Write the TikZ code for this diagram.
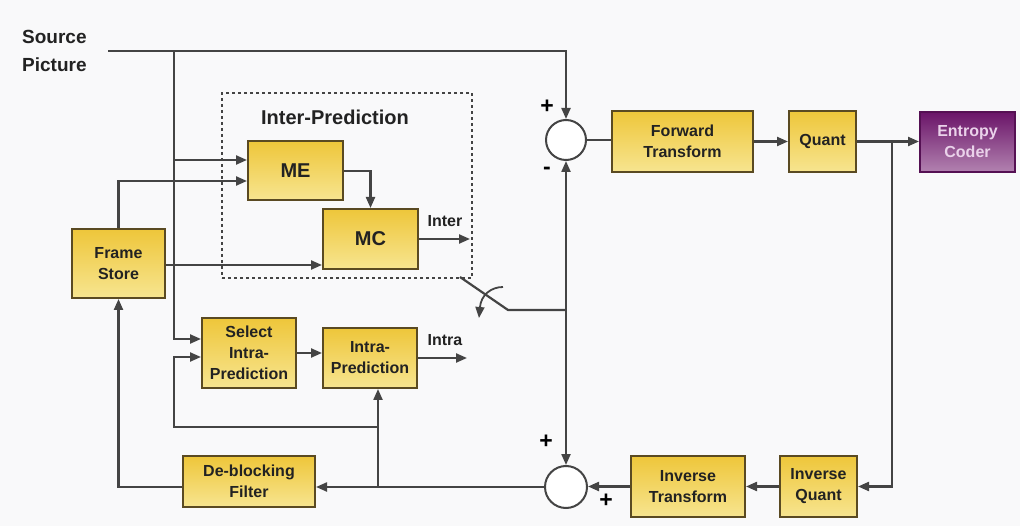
\documentclass[tikz,border=0pt]{standalone}
\usepackage{fontspec}
\setmainfont{Liberation Sans}
\usetikzlibrary{arrows.meta,calc}
\definecolor{linec}{HTML}{444444}
\definecolor{boxborder}{HTML}{5A4A22}
\definecolor{yeltop}{HTML}{EEC63A}
\definecolor{yelbot}{HTML}{F7E590}
\definecolor{purtop}{HTML}{6A1468}
\definecolor{purbot}{HTML}{B282B0}
\definecolor{purtext}{HTML}{EAD2EA}
\definecolor{txt}{HTML}{222222}
\definecolor{bg}{HTML}{F9F9FA}
\begin{document}
\begin{tikzpicture}[x=1pt,y=-1pt,
  ybox/.style={draw=boxborder, line width=2pt, top color=yeltop, bottom color=yelbot,
    text=txt, font=\bfseries\fontsize{16}{21}\selectfont, align=center, inner sep=0pt},
  pbox/.style={draw=purtop!80!black, line width=2pt, top color=purtop, bottom color=purbot,
    text=purtext, font=\bfseries\fontsize{16}{21}\selectfont, align=center, inner sep=0pt},
  conn/.style={draw=linec, line width=2.2pt},
  arr/.style={conn, -{Triangle[length=11pt,width=9pt]}},
  sumc/.style={circle, draw=linec, line width=2pt, fill=white, inner sep=0pt},
  lbl/.style={text=txt, font=\bfseries\fontsize{16}{18}\selectfont, inner sep=0pt},
  sign/.style={text=black, font=\bfseries\fontsize{23}{23}\selectfont, inner sep=0pt}]
\fill[bg] (0,0) rectangle (1020,526);
\useasboundingbox (0,0) rectangle (1020,526);

% inter-prediction frame
\node[draw=linec, line width=1.8pt, dash pattern=on 3pt off 3pt, minimum width=250pt, minimum height=185pt, inner sep=0pt] (interbox) at (347,185.5) {};
\node[lbl, font=\bfseries\fontsize{20}{22}\selectfont] (intertitle) at (335,117) {Inter-Prediction};

% source
\node[anchor=west, text=txt, font=\bfseries\fontsize{19}{28}\selectfont, align=left, inner sep=0pt] (src) at (22,51) {Source\\Picture};

% boxes
\node[ybox, minimum width=141pt, minimum height=61pt] (ft) at (682.5,141.5) {Forward\\Transform};
\node[ybox, minimum width=67pt, minimum height=61pt] (q) at (822.5,141.5) {Quant};
\node[pbox, minimum width=95pt, minimum height=60pt] (ec) at (967.5,142) {Entropy\\Coder};
\node[ybox, minimum width=114pt, minimum height=61pt] (it) at (688,486.5) {Inverse\\Transform};
\node[ybox, minimum width=77pt, minimum height=61pt] (iq) at (818.5,486.5) {Inverse\\Quant};
\node[ybox, minimum width=132pt, minimum height=51pt] (db) at (249,481.5) {De-blocking\\Filter};
\node[ybox, minimum width=93pt, minimum height=69pt] (fs) at (118.5,263.5) {Frame\\Store};
\node[ybox, minimum width=95pt, minimum height=59pt, font=\bfseries\fontsize{20}{22}\selectfont] (me) at (295.5,170.5) {ME};
\node[ybox, minimum width=95pt, minimum height=60pt, font=\bfseries\fontsize{20}{22}\selectfont] (mc) at (370.5,239) {MC};
\node[ybox, minimum width=94pt, minimum height=70pt] (sel) at (249,353) {Select\\Intra-\\Prediction};
\node[ybox, minimum width=94pt, minimum height=60pt] (intra) at (370,358) {Intra-\\Prediction};

% summing junctions
\node[sumc, minimum size=40pt] (s1) at (566,140) {};
\node[sumc, minimum size=42pt] (s2) at (566,487) {};
\node[sign] (p1) at (547,107) {+};
\node[sign] (m1) at (547,171) {-};
\node[sign] (p2) at (546,442) {+};
\node[sign] (p3) at (606,501) {+};

% labels
\node[lbl] (interlbl) at (445,221) {Inter};
\node[lbl] (intralbl) at (445,340) {Intra};

% coordinates
\coordinate (srcstart) at (108,51);
\coordinate (srccorner) at (566,51);
\coordinate (b1) at (174,51);
\coordinate (b2) at (174,339);
\coordinate (bme) at (174,160);
\coordinate (fsme) at (118.5,181);
\coordinate (fsmc) at (165,265);
\coordinate (memc) at (370.5,171);
\coordinate (interend) at (470,239);
\coordinate (intraend) at (467,358);
\coordinate (qbr) at (892,141.5);
\coordinate (qdown) at (892,486.5);
\coordinate (dbfs) at (118.5,487);
\coordinate (loopbot) at (378,487);
\coordinate (loopa) at (378,427);
\coordinate (loopb) at (174,427);
\coordinate (loopc) at (174,357);
\coordinate (sw) at (566,310);
\coordinate (swknee) at (508,310);
\coordinate (swtip) at (460,277);
\coordinate (cva) at (503,287);
\coordinate (cvb) at (479,318);

% connectors
\draw[arr] (srcstart) -- (srccorner) -- (s1.north);
\draw[arr] (b1) -- (b2) -- (sel.west |- b2);
\draw[arr] (bme) -- (me.west |- bme);
\draw[arr] (fs.north) -- (fsme) -- (me.west |- fsme);
\draw[arr] (fs.east |- fsmc) -- (mc.west |- fsmc);
\draw[arr] (me.east |- memc) -- (memc) -- (mc.north);
\draw[arr] (mc.east |- interend) -- (interend);
\draw[arr] (sel.east) -- (intra.west |- sel.east);
\draw[arr] (intra.east) -- (intraend);
\draw[conn] (s1.east) -- (ft.west |- s1.east);
\draw[arr] (ft.east) -- (q.west);
\draw[arr] (q.east) -- (ec.west |- q.east);
\draw[arr] (qbr) -- (qdown) -- (iq.east);
\draw[arr] (iq.west) -- (it.east);
\draw[arr] (it.west) -- (s2.east |- it.west);
\draw[arr] (s2.west) -- (db.east |- s2.west);
\draw[arr] (db.west |- dbfs) -- (dbfs) -- (fs.south);
\draw[arr] (loopbot) -- (intra.south -| loopbot);
\draw[arr] (loopa) -- (loopb) -- (loopc) -- (sel.west |- loopc);
\draw[arr] (sw) -- (s1.south);
\draw[arr] (sw) -- (s2.north);
\draw[conn] (sw) -- (swknee) -- (swtip);
\draw[arr, line width=1.8pt] (cva) .. controls (491,287) and (481,295) .. (cvb);
\end{tikzpicture}
\end{document}
